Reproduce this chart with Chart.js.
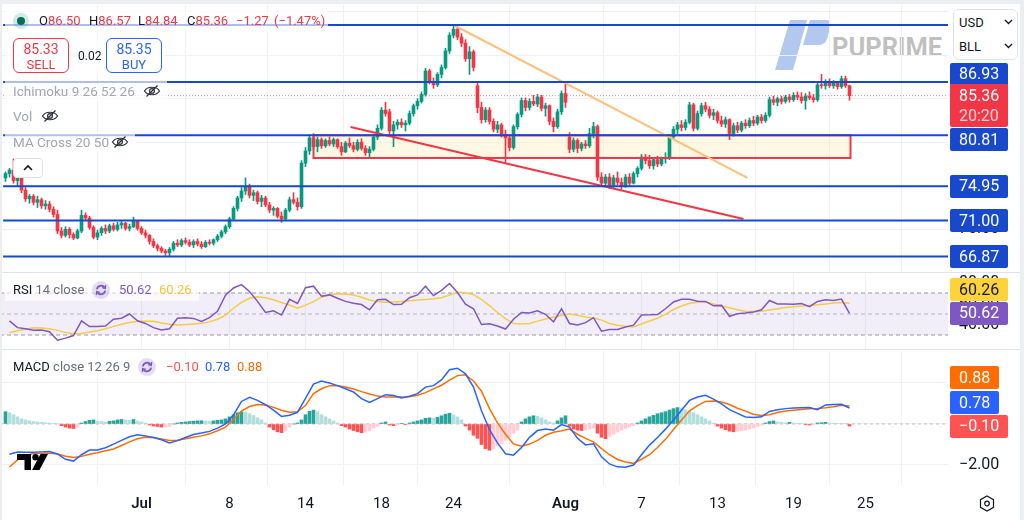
<!DOCTYPE html>
<html><head><meta charset="utf-8">
<title>BLL USD chart</title>
<script src="https://cdn.jsdelivr.net/npm/chart.js@4.4.1/dist/chart.umd.min.js"></script>
<style>
html,body{margin:0;padding:0;background:#fff;}
#wrap{position:relative;width:1024px;height:520px;overflow:hidden;background:#fff;font-family:Roboto,"Noto Sans",sans-serif;color:#131722;}
canvas{position:absolute;left:0;z-index:2;}
.bg{position:absolute;background:rgba(255,255,255,0.65);z-index:3;}
.t{position:absolute;white-space:nowrap;z-index:4;font-size:13px;line-height:20px;}
.r{color:#F23645}
.g{color:#a3a6af}
.m{color:#6a6d78}
.ic{position:absolute;z-index:4;}
.frame{position:absolute;background:#eceff2;z-index:20;}
.sep{position:absolute;left:0;width:1024px;height:1px;background:#e0e3eb;z-index:6;}
</style></head>
<body>
<div id="wrap">
  <!-- watermark under the chart -->
  <svg class="ic" style="left:770px;top:15px;z-index:1" width="70" height="60" viewBox="0 0 70 60">
    <path d="M5 55 L23 55 L37 5 L20 5 Z" fill="#b3c8ee"/>
    <path d="M40 5 L56 5 Q62 5 60 13 L57 24 Q55 30 48 30 L33 30 Z" fill="#b3c8ee"/>
  </svg>
  <div class="t" style="left:832px;top:32px;font-size:25.5px;line-height:30px;font-weight:700;color:rgba(150,150,150,0.6);z-index:1">PUPRIME</div>

  <canvas id="cMain" width="1024" height="272" style="top:0"></canvas>
  <canvas id="cRsi" width="1024" height="78" style="top:272px"></canvas>
  <canvas id="cMacd" width="1024" height="170" style="top:350px"></canvas>

  <div class="sep" style="top:272px"></div>
  <div class="sep" style="top:349px"></div>

  <!-- main legend -->
  <div class="bg" style="left:5px;top:11px;width:323px;height:20px"></div>
  <div class="ic" style="left:13px;top:13px;width:16px;height:16px;border-radius:50%;background:rgba(8,153,129,0.2)"></div>
  <div class="ic" style="left:17px;top:17px;width:8px;height:8px;border-radius:50%;background:#0b6b5b"></div>
  <div class="t" style="left:39px;top:11px">O<span class="r">86.50</span></div>
  <div class="t" style="left:89px;top:11px">H<span class="r">86.57</span></div>
  <div class="t" style="left:138px;top:11px">L<span class="r">84.84</span></div>
  <div class="t" style="left:187px;top:11px">C<span class="r">85.36</span></div>
  <div class="t r" style="left:236px;top:11px">−1.27</div>
  <div class="t r" style="left:274px;top:11px">(−1.47%)</div>

  <div class="bg" style="left:5px;top:36px;width:161px;height:40px"></div>
  <div class="t" style="left:13px;top:38px;width:56px;height:35px;box-sizing:border-box;border:1px solid #F23645;border-radius:6px;text-align:center;color:#F23645;background:#fff">
    <div style="font-size:14px;line-height:16px;margin-top:2px">85.33</div><div style="font-size:13px;line-height:15px">SELL</div></div>
  <div class="t" style="left:78px;top:46px;font-size:12px">0.02</div>
  <div class="t" style="left:106px;top:38px;width:56px;height:35px;box-sizing:border-box;border:1px solid #2962FF;border-radius:6px;text-align:center;color:#2962FF;background:#fff">
    <div style="font-size:14px;line-height:16px;margin-top:2px">85.35</div><div style="font-size:13px;line-height:15px">BUY</div></div>

  <div class="bg" style="left:5px;top:81px;width:162px;height:20px"></div>
  <div class="t g" style="left:13px;top:81px;font-size:13.5px">Ichimoku 9 26 52 26</div>
  <svg class="ic eye" style="left:143px;top:82px" width="18" height="18" viewBox="0 0 18 18"><path d="M1.5 9 C4.5 4 13.5 4 16.5 9 C13.5 14 4.5 14 1.5 9Z" fill="none" stroke="#2a2e39" stroke-width="1.2"/><circle cx="9" cy="9" r="2.4" fill="none" stroke="#2a2e39" stroke-width="1.2"/><path d="M3.5 14.5 L14.5 3.5" stroke="#2a2e39" stroke-width="1.2"/></svg>

  <div class="bg" style="left:5px;top:106px;width:60px;height:20px"></div>
  <div class="t g" style="left:13px;top:106px;font-size:13.5px">Vol</div>
  <svg class="ic" style="left:41px;top:107px" width="18" height="18" viewBox="0 0 18 18"><path d="M1.5 9 C4.5 4 13.5 4 16.5 9 C13.5 14 4.5 14 1.5 9Z" fill="none" stroke="#2a2e39" stroke-width="1.2"/><circle cx="9" cy="9" r="2.4" fill="none" stroke="#2a2e39" stroke-width="1.2"/><path d="M3.5 14.5 L14.5 3.5" stroke="#2a2e39" stroke-width="1.2"/></svg>

  <div class="bg" style="left:5px;top:132px;width:130px;height:20px"></div>
  <div class="t g" style="left:13px;top:132px;font-size:13.5px">MA Cross 20 50</div>
  <svg class="ic" style="left:111px;top:133px" width="18" height="18" viewBox="0 0 18 18"><path d="M1.5 9 C4.5 4 13.5 4 16.5 9 C13.5 14 4.5 14 1.5 9Z" fill="none" stroke="#2a2e39" stroke-width="1.2"/><circle cx="9" cy="9" r="2.4" fill="none" stroke="#2a2e39" stroke-width="1.2"/><path d="M3.5 14.5 L14.5 3.5" stroke="#2a2e39" stroke-width="1.2"/></svg>

  <div class="ic" style="left:13px;top:158px;width:30px;height:20px;box-sizing:border-box;border:1px solid #e0e3eb;border-radius:4px;background:#fff">
    <svg width="28" height="18" viewBox="0 0 28 18" style="position:absolute;left:0;top:0"><path d="M10 11 L14 7 L18 11" fill="none" stroke="#131722" stroke-width="1.6"/></svg></div>

  <!-- RSI legend -->
  <div class="bg" style="left:5px;top:280px;width:194px;height:21px"></div>
  <div class="t" style="left:13px;top:280px">RSI <span class="m">14 close</span></div>
  <svg class="ic" style="left:92px;top:281px" width="18" height="18" viewBox="0 0 18 18"><circle cx="9" cy="9" r="9" fill="rgba(126,87,194,0.2)"/><path d="M4.8 8.3 A4.3 4.3 0 0 1 12.6 6.6" fill="none" stroke="#7E57C2" stroke-width="1.7"/><path d="M13.2 9.7 A4.3 4.3 0 0 1 5.4 11.4" fill="none" stroke="#7E57C2" stroke-width="1.7"/><path d="M13.6 4.2 L13.2 7.4 L10.2 6.6" fill="none" stroke="#7E57C2" stroke-width="1.5"/><path d="M4.4 13.8 L4.8 10.6 L7.8 11.4" fill="none" stroke="#7E57C2" stroke-width="1.5"/></svg>
  <div class="t" style="left:119px;top:280px;color:#7E57C2">50.62</div>
  <div class="t" style="left:159px;top:280px;color:#F5C33B">60.26</div>

  <!-- MACD legend -->
  <div class="bg" style="left:5px;top:357px;width:266px;height:21px"></div>
  <div class="t" style="left:13px;top:357px">MACD <span class="m">close 12 26 9</span></div>
  <svg class="ic" style="left:138px;top:358px" width="18" height="18" viewBox="0 0 18 18"><circle cx="9" cy="9" r="9" fill="rgba(126,87,194,0.2)"/><path d="M4.8 8.3 A4.3 4.3 0 0 1 12.6 6.6" fill="none" stroke="#7E57C2" stroke-width="1.7"/><path d="M13.2 9.7 A4.3 4.3 0 0 1 5.4 11.4" fill="none" stroke="#7E57C2" stroke-width="1.7"/><path d="M13.6 4.2 L13.2 7.4 L10.2 6.6" fill="none" stroke="#7E57C2" stroke-width="1.5"/><path d="M4.4 13.8 L4.8 10.6 L7.8 11.4" fill="none" stroke="#7E57C2" stroke-width="1.5"/></svg>
  <div class="t" style="left:166px;top:357px;color:#FF5252">−0.10</div>
  <div class="t" style="left:205px;top:357px;color:#2962FF">0.78</div>
  <div class="t" style="left:237px;top:357px;color:#FF6D00">0.88</div>

  <!-- TradingView logo -->
  <svg class="ic" style="left:17px;top:454px;z-index:5" width="31" height="17" viewBox="0 0 31 17">
    <path d="M0 0 H14 V16 H7.5 V6 H0 Z" fill="#000"/><circle cx="18.5" cy="3.2" r="3.2" fill="#000"/><path d="M23.5 0 H31 L22.5 16 H15 Z" fill="#000"/></svg>

  <!-- currency / unit box -->
  <div class="ic" style="left:953px;top:9px;width:65px;height:51px;box-sizing:border-box;border:1px solid #e0e3eb;border-radius:6px;background:#fff;z-index:7"></div>
  <div class="t" style="left:959px;top:13px;z-index:8">USD</div>
  <div class="t" style="left:959px;top:37px;z-index:8">BLL</div>
  <svg class="ic" style="left:1004px;top:19px;z-index:8" width="9" height="6" viewBox="0 0 9 6"><path d="M1 1 L4.5 4.5 L8 1" fill="none" stroke="#131722" stroke-width="1.3"/></svg>
  <svg class="ic" style="left:1004px;top:43px;z-index:8" width="9" height="6" viewBox="0 0 9 6"><path d="M1 1 L4.5 4.5 L8 1" fill="none" stroke="#131722" stroke-width="1.3"/></svg>

  <!-- settings icon -->
  <svg class="ic" style="left:979px;top:495px;z-index:8" width="16" height="17" viewBox="0 0 16 17"><path d="M8 1 L14.5 4.7 V12.3 L8 16 L1.5 12.3 V4.7 Z" fill="none" stroke="#131722" stroke-width="1.2"/><circle cx="8" cy="8.5" r="2.3" fill="none" stroke="#131722" stroke-width="1.2"/></svg>

  <div class="frame" style="left:0;top:0;width:1024px;height:4px"></div>
  <div class="frame" style="left:0;top:0;width:2px;height:520px"></div>
  <div class="frame" style="left:1020px;top:0;width:4px;height:520px"></div>
</div>

<script>
// ---------------- DATA ----------------
// candles (bar index 0..211)
const open = [
75.9,76.4,76.8,75.6,75.9,74.5,73.5,73.8,73.1,73.4,
72.7,72.9,72.3,71.7,69.8,69.3,70.0,69.4,69.0,69.8,
71.6,71.3,70.2,69.1,69.6,70.1,69.8,70.4,70.0,70.5,
70.7,70.1,70.3,70.9,70.1,69.6,69.3,68.6,68.1,67.8,
67.5,67.3,67.7,68.4,68.2,68.7,68.5,68.2,68.6,68.3,
68.0,68.5,68.4,68.8,69.2,69.7,70.3,71.2,72.4,73.6,
74.4,74.9,73.9,74.2,73.2,73.6,72.8,72.2,72.4,71.5,
71.2,72.2,73.4,73.1,72.6,77.6,79.0,80.5,79.5,80.3,
79.6,80.2,79.8,80.3,79.5,78.9,79.9,79.6,79.2,80.0,
79.3,78.8,79.2,80.6,81.6,83.7,83.5,81.3,82.0,82.3,
82.0,82.2,83.3,84.2,84.7,85.5,88.2,87.0,86.6,87.8,
88.6,90.5,92.3,93.0,92.1,91.4,89.6,90.4,86.5,84.0,
82.6,83.7,82.4,81.5,82.0,80.9,80.5,79.4,81.8,83.2,
84.8,84.0,84.7,84.4,85.2,83.9,84.2,82.4,81.8,83.5,
85.6,80.6,79.2,80.2,79.3,79.8,79.6,81.0,81.8,76.0,
75.3,76.0,75.1,75.9,75.4,75.0,76.0,75.3,76.4,77.0,
78.3,77.9,77.3,78.0,77.5,78.1,78.2,80.6,81.5,82.0,
81.7,82.3,84.3,81.6,83.3,84.2,83.8,83.1,83.4,82.5,
82.1,82.6,81.0,81.9,81.4,82.2,81.9,82.5,82.2,82.9,
82.5,83.1,84.9,84.6,85.0,84.7,85.2,84.9,85.4,85.2,
84.8,85.3,85.1,84.9,86.6,86.5,86.9,86.5,86.8,86.4,
87.3,86.50];
const high = [
76.6,77.0,78.1,76.2,76.0,74.8,74.0,74.0,73.8,73.6,
73.3,73.2,72.6,72.2,70.2,70.3,70.2,69.6,70.0,72.2,
71.9,71.5,70.4,69.9,70.3,70.5,70.6,70.7,70.8,70.9,
70.8,70.6,71.4,71.0,70.3,69.9,69.4,68.9,68.3,68.0,
67.7,67.9,68.6,68.8,68.9,69.0,68.8,68.8,68.9,68.6,
68.7,68.8,68.9,69.4,69.9,70.5,71.4,72.6,73.8,74.8,
75.9,75.2,74.5,74.4,73.9,73.8,73.1,72.6,72.5,72.0,
72.4,73.7,74.2,73.6,77.9,79.4,80.9,81.0,80.6,80.5,
80.4,80.6,80.5,80.4,80.0,80.1,80.5,80.0,80.3,80.4,
79.6,79.5,80.9,82.0,84.0,84.6,83.8,82.4,82.6,82.7,
82.5,83.6,84.4,85.0,85.8,88.5,88.4,87.4,88.0,88.9,
90.8,92.6,93.5,93.2,92.5,91.8,91.0,90.6,86.8,84.6,
84.0,84.0,82.7,82.4,82.2,81.4,80.7,82.0,83.4,85.1,
85.1,85.0,85.4,85.5,85.4,84.5,84.3,82.8,83.8,85.9,
86.9,81.1,80.5,80.4,80.0,80.2,81.6,82.3,82.0,76.5,
76.3,76.4,76.2,76.6,75.9,76.3,76.4,76.6,77.2,78.6,
78.6,78.5,78.2,78.4,78.3,78.8,80.9,81.8,82.3,82.5,
82.6,84.6,84.5,83.6,84.5,84.6,84.1,83.8,83.6,83.0,
82.9,82.7,82.2,82.3,82.4,82.6,82.8,83.0,83.1,83.2,
83.4,85.2,85.3,85.2,85.3,85.4,85.5,85.7,85.8,85.7,
85.6,85.8,85.5,86.9,87.8,87.2,87.3,87.1,87.0,87.6,
87.6,86.57];
const low = [
75.5,76.0,75.3,75.0,74.2,73.2,73.0,72.8,72.5,72.4,
72.3,72.0,71.4,69.5,69.0,69.1,69.0,68.8,68.9,69.6,
71.0,70.0,68.9,68.8,69.3,69.5,69.6,69.8,69.8,70.1,
69.9,69.8,70.2,69.9,69.4,69.0,68.3,67.9,67.5,67.3,
67.0,66.9,67.5,68.0,68.0,68.3,68.0,67.9,68.1,67.8,
67.9,68.2,68.2,68.6,69.0,69.5,70.1,71.0,72.1,73.2,
74.0,73.6,73.3,72.9,72.6,72.6,71.9,71.6,71.3,70.8,
71.0,72.0,72.9,72.2,72.4,77.2,78.6,79.2,78.9,79.3,
79.4,79.6,79.5,79.3,78.5,78.8,79.4,78.9,79.0,79.1,
78.5,78.2,79.0,80.3,81.4,83.0,81.0,79.5,81.5,81.7,
81.3,82.0,83.0,83.8,84.5,85.3,86.7,86.2,86.4,87.4,
88.4,90.2,92.0,91.8,91.0,89.3,87.8,88.2,83.4,82.2,
82.3,82.1,81.2,81.1,80.6,77.7,79.0,79.2,81.5,82.9,
83.6,83.7,84.2,84.1,83.6,83.0,82.0,81.2,81.6,83.2,
84.0,78.8,78.9,78.8,79.0,79.3,79.4,80.5,75.6,75.0,
74.9,74.7,74.8,75.1,74.6,74.8,75.0,75.2,76.0,76.8,
77.5,77.0,76.9,77.2,77.3,77.6,78.0,80.3,81.0,81.3,
81.4,82.1,81.3,81.4,83.0,83.5,82.8,82.6,82.2,81.8,
81.7,80.3,80.7,81.1,81.2,81.6,81.7,81.9,82.0,82.2,
82.3,82.9,84.3,84.2,84.4,84.5,84.6,84.7,84.9,84.5,
83.8,84.9,84.6,84.7,86.2,86.1,86.3,86.2,86.1,86.2,
86.3,84.84];
const close = [
76.4,76.8,75.6,75.9,74.5,73.5,73.8,73.1,73.4,72.7,
72.9,72.3,71.7,69.8,69.3,70.0,69.4,69.0,69.8,71.6,
71.3,70.2,69.1,69.6,70.1,69.8,70.4,70.0,70.5,70.7,
70.1,70.3,70.9,70.1,69.6,69.3,68.6,68.1,67.8,67.5,
67.3,67.7,68.4,68.2,68.7,68.5,68.2,68.6,68.3,68.0,
68.5,68.4,68.8,69.2,69.7,70.3,71.2,72.4,73.6,74.4,
74.9,73.9,74.2,73.2,73.6,72.8,72.2,72.4,71.5,71.2,
72.2,73.4,73.1,72.6,77.6,79.0,80.5,79.5,80.3,79.6,
80.2,79.8,80.3,79.5,78.9,79.9,79.6,79.2,80.0,79.3,
78.8,79.2,80.6,81.6,83.7,83.3,81.3,82.0,82.3,82.0,
82.2,83.3,84.2,84.7,85.5,88.2,87.0,86.6,87.8,88.6,
90.5,92.3,93.0,92.1,91.4,89.6,90.4,88.6,84.0,82.6,
83.7,82.4,81.5,82.0,80.9,80.5,79.4,81.8,83.2,84.8,
84.0,84.7,84.4,85.2,83.9,84.2,82.4,81.8,83.5,85.6,
84.6,79.2,80.2,79.3,79.8,79.6,81.0,81.8,76.0,75.3,
76.0,75.1,75.9,75.4,75.0,76.0,75.3,76.4,77.0,78.3,
77.9,77.3,78.0,77.5,78.1,78.2,80.6,81.5,82.0,81.7,
82.3,84.3,81.6,83.3,84.2,83.8,83.1,83.4,82.5,82.1,
82.6,81.0,81.9,81.4,82.2,81.9,82.5,82.2,82.9,82.5,
83.1,84.9,84.6,85.0,84.7,85.2,84.9,85.4,85.2,84.8,
85.3,85.1,84.9,86.6,86.5,86.9,86.5,86.8,86.4,87.3,
86.5,85.36];

// time axis
const tickBars   = [34, 56, 75, 94, 112, 140, 159, 178, 197, 215];
const tickLabels = ['Jul', '8', '14', '18', '24', 'Aug', '7', '13', '19', '25'];

// price axis: grid every 5, labels shown where the picture shows them
const priceGrid   = [70, 75, 80, 85, 90, 95];
const priceLabels = [70, 75, 80, 85];
const levelPrices = [93.48, 86.93, 80.81, 74.95, 71.00, 66.87];
const lastPrice   = 85.36;
const countdown   = '20:20';
const zoneBars    = [77, 211.25];
const zonePrices  = [80.81, 78.2];
const orangeTrendBars   = [112, 185.5];
const orangeTrendPrices = [93.48, 75.9];
const redTrendBars      = [86.25, 184.5];
const redTrendPrices    = [81.76, 71.18];

// RSI (14) and its MA, one reading every 2 bars (bars 1,3,5,...,211)
const rsiLine = [
43.5,37,36,34.5,34.7,33.2,25,27,29.5,43.5,
38,38,38.5,45,46,50,43.6,41,37,34.8,
36,46,46.5,45.8,43,46.5,52.5,68,74.8,78,
71.5,62,51.5,53,49,64,60,75,76.5,67,
68.2,65,62,60.3,59,54,63.5,64,59,59.2,
65.5,68.2,76.5,67.5,72.5,79,70.5,59.3,55,40,
40.8,38.6,35.7,45,51.5,51,53,49.7,42.6,55,
41,39.6,41.8,46.5,33.6,35.2,35.3,37.7,39.4,49.1,
49.2,49.5,55,61.5,64,64,62.2,62,57.8,58.2,
47.8,50.2,51,52,54,62.9,59.6,59.6,59.2,60,
57,62,63.5,62.8,64.2,50.62];
const rsiMa = [
32.3,34,35.5,37,36.6,36,34.4,32.5,31.2,31.5,
32.8,34,35.9,38.2,40.2,41.8,42.8,43.2,43,41.5,
40.2,39.6,40,40.5,41.1,42.5,45,49,55.5,61,
65,66.5,65.5,63.5,61,58.5,55.5,58.5,61.8,66,
68,69.2,69,68,66,63.3,61.8,61.1,61.5,62,
62.6,63.3,63.9,64.6,65.5,68,70.6,70.3,68.5,63.8,
58,51.4,45.5,41,40.4,41,43.2,45.2,47,48.5,
50,48.8,47.2,46.2,44.2,41,39.3,38.4,37.7,40.5,
43.3,46,49.7,54.3,57.6,60.3,61.3,61.6,59.6,57.6,
55.9,54.1,52.3,52.3,52.6,53.8,55,56.2,57,57.6,
58.2,58.8,59.6,60.4,60.9,60.26];
const rsiLevels = [70, 50, 30];
const rsiTicks  = [40, 60, 80];

// MACD (12,26,9): line and signal every 2 bars, histogram every bar
const macdLine = [
-1.48,-1.37,-1.38,-1.38,-1.36,-1.34,-1.46,-1.72,-1.81,-1.5,
-1.27,-1.27,-1.16,-0.98,-0.8,-0.62,-0.53,-0.58,-0.66,-0.77,
-0.93,-0.81,-0.66,-0.51,-0.44,-0.36,-0.2,0.0,0.44,1.1,
1.3,1.15,0.94,0.68,0.37,0.43,0.57,1.25,1.95,2.1,
2.0,1.87,1.72,1.56,1.24,1.05,1.24,1.43,1.39,1.27,
1.35,1.48,1.8,1.87,2.15,2.65,2.72,2.45,1.8,0.65,
-0.28,-0.92,-1.45,-1.52,-1.15,-0.65,-0.32,-0.24,-0.3,-0.03,
-0.15,-0.7,-1.02,-0.97,-1.6,-1.95,-2.09,-2.11,-2.0,-1.5,
-1.03,-0.66,-0.25,0.2,0.67,1.15,1.32,1.4,1.21,0.98,
0.7,0.52,0.34,0.32,0.35,0.61,0.69,0.75,0.78,0.79,
0.8,0.7,0.93,0.95,0.96,0.78];
const signalLine = [
-2.1,-1.75,-1.55,-1.43,-1.43,-1.43,-1.46,-1.57,-1.63,-1.58,
-1.48,-1.4,-1.31,-1.22,-1.05,-0.87,-0.72,-0.65,-0.66,-0.73,
-0.8,-0.79,-0.72,-0.65,-0.58,-0.48,-0.33,-0.15,0.22,0.63,
0.85,0.95,0.93,0.81,0.67,0.57,0.6,0.9,1.48,1.72,
1.87,1.87,1.8,1.71,1.58,1.46,1.36,1.32,1.32,1.32,
1.33,1.4,1.53,1.71,1.89,2.14,2.36,2.4,2.1,1.6,
0.75,0.05,-0.5,-0.97,-1.08,-0.98,-0.8,-0.55,-0.4,-0.33,
-0.25,-0.5,-0.7,-0.87,-1.2,-1.5,-1.73,-1.85,-1.92,-1.72,
-1.5,-1.15,-0.75,-0.27,0.2,0.64,0.9,1.1,1.12,1.07,
0.95,0.77,0.63,0.48,0.42,0.45,0.56,0.63,0.67,0.71,
0.74,0.76,0.79,0.84,0.91,0.88];
const macdHist = [
0.6,0.55,0.45,0.35,0.25,0.2,0.15,0.12,0.1,0.08,
0.06,0.05,0.03,0.0,-0.08,-0.15,-0.2,-0.22,-0.15,0.05,
0.12,0.18,0.2,0.14,0.12,0.1,0.13,0.15,0.2,0.22,
0.2,0.18,0.22,0.15,0.1,0.05,-0.05,-0.1,-0.12,-0.15,
-0.14,-0.12,0.0,0.05,0.08,0.1,0.12,0.14,0.15,0.16,
0.15,0.14,0.15,0.18,0.2,0.25,0.35,0.45,0.55,0.6,
0.58,0.5,0.42,0.3,0.2,0.05,-0.15,-0.28,-0.38,-0.42,
-0.35,-0.15,0.0,0.05,0.2,0.45,0.62,0.68,0.6,0.45,
0.35,0.25,0.15,0.05,-0.08,-0.15,-0.25,-0.32,-0.38,-0.43,
-0.4,-0.33,-0.2,-0.12,0.05,0.1,-0.05,-0.08,-0.05,0.03,
-0.03,0.05,0.1,0.15,0.2,0.28,0.3,0.28,0.32,0.4,
0.48,0.52,0.45,0.35,0.2,-0.1,-0.3,-0.55,-0.7,-1.0,
-1.2,-1.28,-1.2,-1.05,-0.95,-0.8,-0.65,-0.45,-0.3,0.1,
0.25,0.35,0.4,0.38,0.3,0.2,0.1,0.05,0.15,0.3,
0.4,-0.1,-0.25,-0.3,-0.32,-0.3,-0.25,-0.2,-0.45,-0.65,
-0.72,-0.6,-0.5,-0.4,-0.3,-0.22,-0.15,-0.08,0.05,0.15,
0.25,0.35,0.42,0.5,0.55,0.6,0.68,0.75,0.8,0.78,
0.7,0.62,0.55,0.45,0.35,0.25,0.15,0.05,-0.1,-0.2,
-0.28,-0.35,-0.38,-0.36,-0.33,-0.3,-0.25,-0.2,-0.12,-0.06,
0.05,0.12,0.15,0.1,0.08,0.06,0.08,0.05,0.03,0.02,
-0.03,-0.05,-0.04,0.05,0.06,0.08,0.05,0.04,0.03,0.02,
0.01,-0.10];
const macdTicks = [-2, 0, 2];

// ---------------- STYLE / LAYOUT ----------------
const FONT = 'Roboto, "Noto Sans", sans-serif';
const X_MIN = -1.375, X_MAX = 235.625;
const AXIS_W = 76;
const GRID = '#eff1f5';
const UP = '#089981', DN = '#F23645';
Chart.defaults.font.family = FONT;

const candleColor = c => (c.dataIndex == null || close[c.dataIndex] >= open[c.dataIndex]) ? UP : DN;
const hline = (v, x0 = X_MIN, x1 = X_MAX) => [{x: x0, y: v}, {x: x1, y: v}];
const fmt = v => (v < 0 ? '\u2212' : '') + Math.abs(v).toFixed(2);
const setTicks = arr => a => { a.ticks = arr.map(v => ({value: v})); };
const lineDs = (data, color, width, extra) => Object.assign({type: 'line', data, borderColor: color, borderWidth: width, pointRadius: 0, pointHoverRadius: 0, fill: false, tension: 0}, extra || {});
const noPadY = s => { s.width = AXIS_W; s.paddingTop = 0; s.paddingBottom = 0; };

function roundRect(ctx, x, y, w, h, r) {
  ctx.beginPath();
  ctx.moveTo(x + r, y); ctx.lineTo(x + w - r, y); ctx.quadraticCurveTo(x + w, y, x + w, y + r);
  ctx.lineTo(x + w, y + h - r); ctx.quadraticCurveTo(x + w, y + h, x + w - r, y + h);
  ctx.lineTo(x + r, y + h); ctx.quadraticCurveTo(x, y + h, x, y + h - r);
  ctx.lineTo(x, y + r); ctx.quadraticCurveTo(x, y, x + r, y); ctx.closePath();
}

// price-label boxes on the right axis, positioned through the y scale
const boxPlugin = {
  id: 'boxes',
  afterDraw(chart, _args, opts) {
    const ctx = chart.ctx, ys = chart.scales.y, x0 = chart.chartArea.right + 2;
    ctx.save();
    ctx.font = '16px ' + FONT;
    ctx.textBaseline = 'middle';
    ctx.textAlign = 'left';
    (opts.items || []).forEach(b => {
      const yv = ys.getPixelForValue(b.value) + (b.dy || 0);
      const h = b.h || 23;
      const top = yv - (b.top != null ? b.top : h / 2);
      const tw = Math.max(ctx.measureText(b.text).width, b.text2 ? ctx.measureText(b.text2).width : 0);
      const w = Math.round(tw + 18);
      ctx.fillStyle = b.bg;
      roundRect(ctx, x0, Math.round(top), w, h, 2);
      ctx.fill();
      ctx.fillStyle = b.fg;
      ctx.fillText(b.text, x0 + 9, yv + 1);
      if (b.text2) { ctx.fillStyle = b.fg2; ctx.fillText(b.text2, x0 + 9, yv + 21); }
    });
    ctx.restore();
  }
};

const baseOpts = () => ({
  responsive: false, animation: false, events: [],
  plugins: {legend: {display: false}, tooltip: {enabled: false}},
});
const xHidden = () => ({
  type: 'linear', min: X_MIN, max: X_MAX, offset: false,
  afterBuildTicks: setTicks(tickBars), afterFit: s => { s.height = 0; s.paddingLeft = 0; s.paddingRight = 0; },
  ticks: {display: false}, grid: {color: GRID, drawTicks: false}, border: {display: false}
});
const yRight = (min, max, ticks, showGrid, labels) => ({
  position: 'right', min, max,
  afterBuildTicks: setTicks(ticks), afterFit: noPadY,
  ticks: {padding: 11, color: '#131722', font: {size: 16, family: FONT}, autoSkip: false,
    callback: v => (!labels || labels.includes(v)) ? fmt(v) : ''},
  grid: {display: showGrid, color: GRID, drawTicks: false}, border: {display: false}
});

// ---------------- MAIN (price) ----------------
const zonePoly = [
  {x: zoneBars[0], y: zonePrices[0]}, {x: zoneBars[1], y: zonePrices[0]},
  {x: zoneBars[1], y: zonePrices[1]}, {x: zoneBars[0], y: zonePrices[1]},
  {x: zoneBars[0], y: zonePrices[0]}];

const mainDatasets = [
  lineDs(zonePoly, 'rgba(0,0,0,0)', 0, {fill: 'shape', backgroundColor: 'rgba(255,236,179,0.35)', order: 40}),
  {type: 'bar', data: open.map((o, i) => ({x: i, y: [low[i], high[i]]})), backgroundColor: candleColor, barThickness: 1, grouped: false, order: 21},
  {type: 'bar', data: open.map((o, i) => ({x: i, y: [o, close[i]]})), backgroundColor: candleColor, barThickness: 3, grouped: false, minBarLength: 1, order: 20},
  lineDs(zonePoly, '#F23645', 2, {order: 4}),
  lineDs(hline(lastPrice), 'rgba(242,54,69,0.6)', 1, {borderDash: [1, 2], order: 6}),
  lineDs(orangeTrendBars.map((b, k) => ({x: b, y: orangeTrendPrices[k]})), '#FDC07A', 2, {order: 3}),
  lineDs(redTrendBars.map((b, k) => ({x: b, y: redTrendPrices[k]})), '#F23645', 2, {order: 3}),
  ...levelPrices.map(p => lineDs(hline(p, -0.6), '#1848CC', 2, {order: 2}))
];

const mainOpts = baseOpts();
mainOpts.layout = {padding: {top: 5, left: 0, right: 0, bottom: 0}};
mainOpts.scales = {x: xHidden(), y: yRight(65.09, 95.78, priceGrid, true, priceLabels)};
mainOpts.plugins.boxes = {items: [
  {value: levelPrices[1], text: '86.93', bg: '#1848CC', fg: '#fff', dy: -7.5},
  {value: lastPrice, text: '85.36', text2: countdown, bg: '#F23645', fg: '#fff', fg2: 'rgba(255,255,255,0.78)', top: 11.5, h: 43},
  {value: levelPrices[2], text: '80.81', bg: '#1848CC', fg: '#fff', dy: 4.5},
  {value: levelPrices[3], text: '74.95', bg: '#1848CC', fg: '#fff'},
  {value: levelPrices[4], text: '71.00', bg: '#1848CC', fg: '#fff'},
  {value: levelPrices[5], text: '66.87', bg: '#1848CC', fg: '#fff'}
]};
new Chart(document.getElementById('cMain'), {type: 'bar', data: {datasets: mainDatasets}, options: mainOpts, plugins: [boxPlugin]});

// ---------------- RSI ----------------
const rsiPts = rsiLine.map((v, k) => ({x: 2 * k + 1, y: v}));
const rsiMaPts = rsiMa.map((v, k) => ({x: 2 * k + 1, y: v}));
const rsiOpts = baseOpts();
rsiOpts.layout = {padding: {top: 1, bottom: 1, left: 0, right: 0}};
rsiOpts.scales = {x: xHidden(), y: yRight(16.67, 89.05, rsiTicks, false)};
rsiOpts.plugins.boxes = {items: [
  {value: rsiMa[rsiMa.length - 1], text: '60.26', bg: '#FDD33A', fg: '#131722', dy: -13.7},
  {value: rsiLine[rsiLine.length - 1], text: '50.62', bg: '#7E57C2', fg: '#fff'}
]};
new Chart(document.getElementById('cRsi'), {
  type: 'line',
  data: {datasets: [
    lineDs(hline(rsiLevels[0]), 'rgba(120,123,134,0.75)', 1, {borderDash: [4, 3], fill: {value: rsiLevels[2]}, backgroundColor: 'rgba(126,87,194,0.1)', order: 10}),
    lineDs(hline(rsiLevels[1]), 'rgba(120,123,134,0.5)', 1, {borderDash: [4, 3], order: 9}),
    lineDs(hline(rsiLevels[2]), 'rgba(120,123,134,0.75)', 1, {borderDash: [4, 3], order: 9}),
    lineDs(rsiMaPts, '#F7CB45', 1.5, {order: 2}),
    lineDs(rsiPts, '#7E57C2', 1.5, {order: 1})
  ]},
  options: rsiOpts, plugins: [boxPlugin]
});

// ---------------- MACD + time axis ----------------
const histColor = c => {
  const i = c.dataIndex;
  if (i == null) return '#26A69A';
  const v = macdHist[i], p = i > 0 ? macdHist[i - 1] : v;
  if (v >= 0) return v >= p ? '#26A69A' : '#B2DFDB';
  return v >= p ? '#FFCDD2' : '#FF5252';
};
const macdOpts = baseOpts();
macdOpts.layout = {padding: {top: 1, bottom: 0, left: 0, right: 0}};
macdOpts.scales = {
  x: {
    type: 'linear', min: X_MIN, max: X_MAX, offset: false,
    afterBuildTicks: setTicks(tickBars), afterFit: s => { s.height = 35; s.paddingLeft = 0; s.paddingRight = 0; },
    ticks: {autoSkip: false, maxRotation: 0, padding: 10, color: '#131722',
      font: c => ({size: 15, family: FONT, weight: /[A-Za-z]/.test(tickLabels[c.index] || '') ? '600' : '400'}),
      callback: (v, i) => tickLabels[i]},
    grid: {color: GRID, drawTicks: false}, border: {display: false}
  },
  y: yRight(-2.976, 3.561, macdTicks, true)
};
macdOpts.plugins.boxes = {items: [
  {value: signalLine[signalLine.length - 1], text: '0.88', bg: '#FF6D00', fg: '#fff', dy: -28},
  {value: macdLine[macdLine.length - 1], text: '0.78', bg: '#2962FF', fg: '#fff', dy: -5.5},
  {value: macdHist[macdHist.length - 1], text: '\u22120.10', bg: '#FF5252', fg: '#fff'}
]};
new Chart(document.getElementById('cMacd'), {
  type: 'bar',
  data: {datasets: [
    lineDs(hline(0), 'rgba(120,123,134,0.45)', 1, {borderDash: [3, 3], order: 30}),
    {type: 'bar', data: macdHist.map((v, i) => ({x: i, y: v})), backgroundColor: histColor, barThickness: 3, grouped: false, order: 20},
    lineDs(signalLine.map((v, k) => ({x: 2 * k + 1, y: v})), '#FF6D00', 1.5, {order: 2}),
    lineDs(macdLine.map((v, k) => ({x: 2 * k + 1, y: v})), '#2962FF', 1.5, {order: 1})
  ]},
  options: macdOpts, plugins: [boxPlugin]
});
</script>
</body></html>
